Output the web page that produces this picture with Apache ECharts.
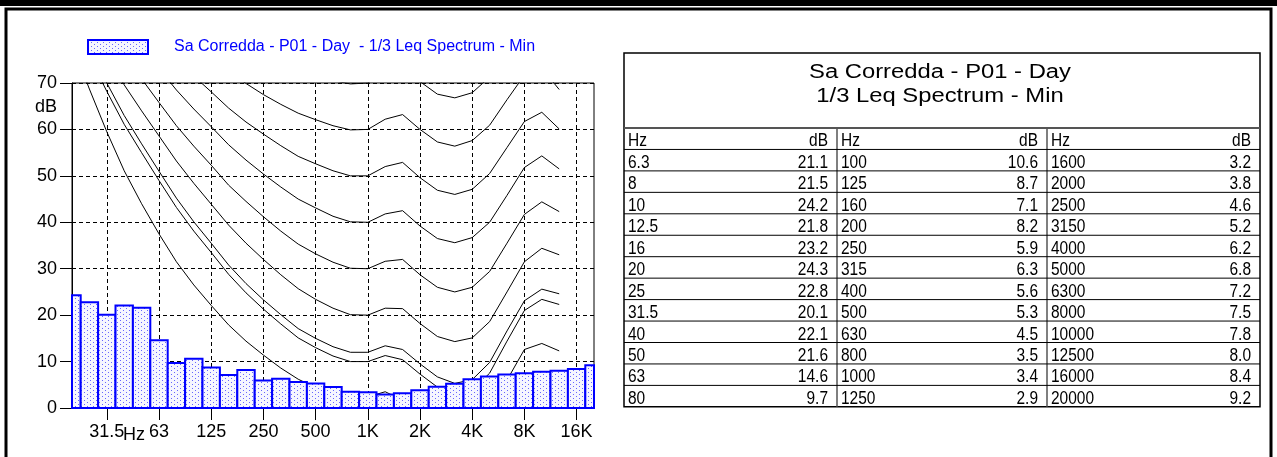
<!DOCTYPE html>
<html>
<head>
<meta charset="utf-8">
<title>Sa Corredda - P01 - Day - 1/3 Leq Spectrum - Min</title>
<script src="https://cdn.jsdelivr.net/npm/echarts@6/dist/echarts.min.js"></script>
<style>
    html, body { margin: 0; padding: 0; background: #fff; }
    #main { width: 1277px; height: 457px; }
</style>
</head>
<body>
<div id="main"></div>
<script>
// 1/3 octave bands and min Leq, as in the table
var bands = ['6.3', '8', '10', '12.5', '16', '20', '25', '31.5', '40', '50', '63', '80',
    '100', '125', '160', '200', '250', '315', '400', '500', '630', '800', '1000', '1250',
    '1600', '2000', '2500', '3150', '4000', '5000', '6300', '8000', '10000', '12500', '16000', '20000'];
var levelsDb = [21.1, 21.5, 24.2, 21.8, 23.2, 24.3, 22.8, 20.1, 22.1, 21.6, 14.6, 9.7,
    10.6, 8.7, 7.1, 8.2, 5.9, 6.3, 5.6, 5.3, 4.5, 3.5, 3.4, 2.9,
    3.2, 3.8, 4.6, 5.2, 6.2, 6.8, 7.2, 7.5, 7.8, 8.0, 8.4, 9.2];

// the chart only shows 20 Hz .. 20 kHz
var chartBands = bands.slice(5);
var chartLevels = levelsDb.slice(5);

// equal loudness curves, 20 Hz .. 12.5 kHz
var curveThreshold = [78.5, 68.7, 59.5, 51.1, 44.0, 37.5, 31.5, 26.5, 22.1, 17.9, 14.4, 11.4, 8.6, 6.2, 4.4, 3.0, 2.2, 2.4, 3.5, 1.7, -1.3, -4.2, -6.0, -5.4, -1.5, 6.0, 12.6, 13.9, 12.3];
var curve10 = [83.8, 75.8, 68.2, 61.1, 55.0, 49.0, 43.2, 38.1, 33.5, 28.8, 24.8, 21.3, 18.1, 15.1, 13.0, 11.2, 10.0, 10.0, 11.3, 10.4, 7.3, 4.5, 3.0, 3.8, 7.5, 14.4, 21.0, 23.4, 22.3];
var curve12 = [85.0, 77.3, 70.0, 63.0, 56.9, 51.0, 45.2, 40.1, 35.5, 30.8, 26.8, 23.3, 20.1, 17.1, 15.0, 13.2, 12.0, 12.0, 13.4, 12.6, 9.5, 6.7, 5.3, 6.1, 9.8, 16.6, 23.1, 25.6, 24.6];
var curve20 = [89.6, 82.7, 76.0, 69.6, 64.0, 58.6, 53.2, 48.4, 43.9, 39.4, 35.5, 32.0, 28.7, 25.7, 23.4, 21.5, 20.1, 20.0, 21.5, 21.4, 18.2, 15.4, 14.3, 15.1, 18.6, 25.0, 31.5, 34.4, 33.0];
var curve30 = [94.8, 88.3, 82.1, 76.1, 70.9, 65.8, 60.8, 56.4, 52.3, 48.0, 44.5, 41.2, 38.1, 35.3, 33.2, 31.4, 30.1, 30.0, 31.6, 32.0, 28.7, 26.0, 25.0, 26.0, 29.4, 35.5, 41.7, 44.4, 42.3];
var curve40 = [99.9, 93.9, 88.2, 82.6, 77.8, 73.1, 68.5, 64.4, 60.6, 56.7, 53.4, 50.4, 47.6, 45.0, 43.1, 41.3, 40.1, 40.0, 41.8, 42.5, 39.2, 36.5, 35.6, 36.7, 40.0, 45.8, 51.8, 54.3, 51.5];
var curve50 = [104.7, 99.1, 93.6, 88.4, 83.9, 79.5, 75.3, 71.5, 68.1, 64.6, 61.6, 59.0, 56.5, 54.2, 52.6, 51.1, 50.0, 50.0, 52.0, 52.9, 49.6, 46.9, 46.0, 47.1, 50.5, 56.1, 61.7, 63.7, 60.1];
var curve60 = [109.5, 104.2, 99.1, 94.2, 90.0, 85.9, 82.1, 78.7, 75.6, 72.5, 69.9, 67.5, 65.4, 63.5, 62.1, 60.8, 59.9, 60.0, 62.2, 63.2, 60.0, 57.3, 56.4, 57.6, 60.9, 66.4, 71.7, 73.2, 68.6];
var curve70 = [114.3, 109.2, 104.4, 99.8, 95.8, 92.2, 88.6, 85.6, 82.8, 80.2, 77.9, 75.9, 74.1, 72.6, 71.5, 70.5, 69.8, 70.0, 72.3, 73.5, 70.3, 67.6, 66.8, 67.9, 71.3, 76.6, 81.5, 82.5, 77.0];
var curves = [curveThreshold, curve10, curve12, curve20, curve30, curve40, curve50, curve60, curve70];

// x axis tick labels
var tickLabels = {'31.5': '31.5', '63': '63', '125': '125', '250': '250', '500': '500',
    '1000': '1K', '2000': '2K', '4000': '4K', '8000': '8K', '16000': '16K'};

var seriesName = 'Sa Corredda - P01 - Day  - 1/3 Leq Spectrum - Min';
var tableTitle = ['Sa Corredda - P01 - Day', '1/3 Leq Spectrum - Min'];

var font = 'Liberation Sans, Arial, Helvetica, sans-serif';

// dotted fill for the bars
function makeDots() {
    var c = document.createElement('canvas');
    c.width = 6;
    c.height = 4;
    var ctx = c.getContext('2d');
    ctx.fillStyle = '#f6f6ff';
    ctx.fillRect(0, 0, 6, 4);
    ctx.fillStyle = '#6666ff';
    ctx.fillRect(0, 0, 1, 1);
    ctx.fillRect(3, 2, 1, 1);
    return c;
}
var dots = {image: makeDots(), repeat: 'repeat'};

function isTick(idx) {
    return tickLabels.hasOwnProperty(chartBands[idx]);
}

// bars are centred on the band ticks, first and last one cut by the plot edge
function renderBar(params, api) {
    var idx = api.value(0);
    var top = api.coord([idx, api.value(1)]);
    var base = api.coord([idx, 0]);
    var w = api.size([1, 0])[0];
    var cs = params.coordSys;
    var rect = echarts.graphic.clipRectByRect(
        {x: top[0] - w / 2, y: top[1], width: w, height: base[1] - top[1]},
        {x: cs.x, y: cs.y, width: cs.width, height: cs.height});
    return rect && {type: 'rect', shape: rect, style: api.style()};
}

// table on the right, built from bands / levelsDb
function buildTable() {
    var colX = [624, 837, 1047, 1260];
    var top = 53, headTop = 128, rowH = 21.45;
    var bottom = headTop + rowH * 13;
    var els = [];
    els.push({type: 'rect', silent: true, shape: {x: colX[0], y: top, width: colX[3] - colX[0], height: bottom - top},
        style: {fill: '#fff', stroke: '#000', lineWidth: 1.5}});
    els.push({type: 'line', silent: true, shape: {x1: colX[0], y1: headTop, x2: colX[3], y2: headTop},
        style: {stroke: '#555', lineWidth: 2}});
    for (var c = 1; c < 3; c++) {
        els.push({type: 'line', silent: true, shape: {x1: colX[c], y1: headTop, x2: colX[c], y2: bottom},
            style: {stroke: '#555', lineWidth: 1.5}});
    }
    for (var r = 1; r < 13; r++) {
        var ly = headTop + rowH * r;
        els.push({type: 'line', silent: true, shape: {x1: colX[0], y1: ly, x2: colX[3], y2: ly},
            style: {stroke: '#000', lineWidth: 1}});
    }
    tableTitle.forEach(function (t, i) {
        els.push({type: 'text', silent: true, x: 940, y: 72 + i * 24.5, scaleX: 1.19,
            style: {text: t, fontSize: 20, fontFamily: font, fill: '#000', textAlign: 'center', textVerticalAlign: 'middle'}});
    });
    function cell(txt, x, y, align) {
        els.push({type: 'text', silent: true, x: x, y: y, scaleX: 0.86,
            style: {text: txt, fontSize: 18, fontFamily: font, fill: '#000', textAlign: align, textVerticalAlign: 'middle'}});
    }
    for (c = 0; c < 3; c++) {
        cell('Hz', colX[c] + 4, headTop + 13, 'left');
        cell('dB', colX[c + 1] - 9, headTop + 13, 'right');
    }
    bands.forEach(function (b, i) {
        var col = Math.floor(i / 12), row = i % 12;
        var y = headTop + rowH * (row + 1) + 13.5;
        cell(b, colX[col] + 4, y, 'left');
        cell(levelsDb[i].toFixed(1), colX[col + 1] - 9, y, 'right');
    });
    return els;
}

var chart = echarts.init(document.getElementById('main'));

var series = curves.map(function (vals, i) {
    return {
        name: 'curve' + i,
        type: 'line',
        data: vals,
        symbol: 'none',
        silent: true,
        z: 2,
        lineStyle: {color: '#000', width: 1}
    };
});
series.push({
    name: seriesName,
    type: 'custom',
    renderItem: renderBar,
    data: chartLevels.map(function (v, i) { return [i, v]; }),
    encode: {x: 0, y: 1},
    z: 3,
    itemStyle: {color: dots, borderColor: '#0000ff', borderWidth: 2}
});

var option = {
    animation: false,
    backgroundColor: '#fff',
    legend: {
        data: [seriesName],
        left: 87,
        top: 39,
        padding: 0,
        icon: 'rect',
        itemWidth: 60,
        itemHeight: 14,
        textStyle: {color: '#0000ff', fontSize: 16, fontFamily: font, padding: [0, 0, 0, 21]}
    },
    grid: {left: 72, top: 83, right: 683, bottom: 49, show: true, borderColor: '#000', borderWidth: 1},
    xAxis: {
        type: 'category',
        data: chartBands,
        boundaryGap: false,
        axisLine: {lineStyle: {color: '#000', width: 1}},
        axisTick: {interval: isTick, length: 12, lineStyle: {color: '#000'}},
        axisLabel: {
            interval: isTick,
            formatter: function (v) { return tickLabels[v] || ''; },
            color: '#000', fontSize: 18, fontFamily: font, margin: 15
        },
        splitLine: {show: true, interval: isTick, lineStyle: {color: '#000', type: [4, 3], width: 1}}
    },
    yAxis: {
        type: 'value',
        min: 0,
        max: 70,
        interval: 10,
        axisLine: {show: true, lineStyle: {color: '#000', width: 1}},
        axisTick: {show: true, length: 12, lineStyle: {color: '#000'}},
        axisLabel: {color: '#000', fontSize: 18, fontFamily: font, margin: 15},
        splitLine: {show: true, lineStyle: {color: '#000', type: [4, 3], width: 1}}
    },
    graphic: [
        {type: 'rect', silent: true, shape: {x: 0, y: 0, width: 1277, height: 6}, style: {fill: '#000'}},
        {type: 'rect', silent: true, shape: {x: 6, y: 9, width: 1265, height: 470},
            style: {fill: 'none', stroke: '#000', lineWidth: 3}},
        {type: 'text', silent: true, x: 57, y: 107.5,
            style: {text: 'dB', fontSize: 18, fontFamily: font, fill: '#000', textAlign: 'right', textVerticalAlign: 'middle'}},
        {type: 'text', silent: true, x: 123, y: 435,
            style: {text: 'Hz', fontSize: 18, fontFamily: font, fill: '#000', textAlign: 'left', textVerticalAlign: 'middle'}}
    ].concat(buildTable()),
    series: series
};

chart.setOption(option);
</script>
</body>
</html>
